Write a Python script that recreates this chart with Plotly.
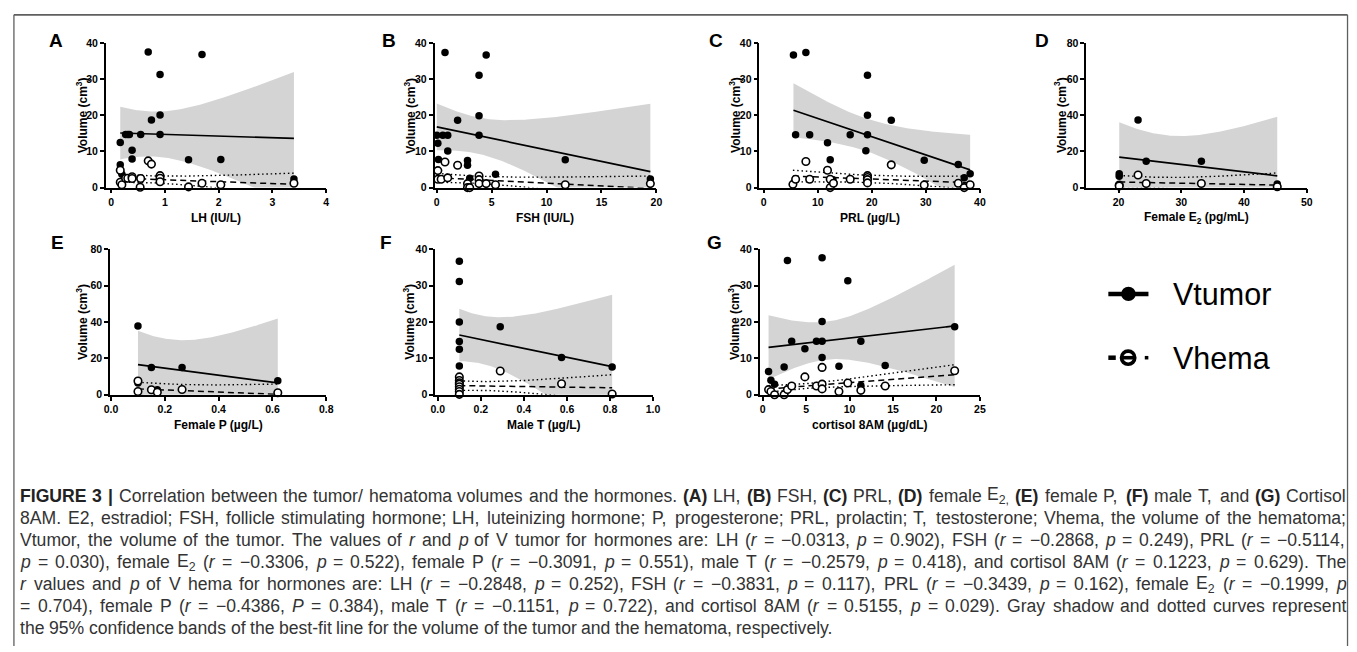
import re
import numpy as np
import plotly.graph_objects as go

W, H = 1357, 652
FONT = "Arial, 'Liberation Sans', sans-serif"

# ---------------- data ----------------
A_tumor_x = [0.17, 0.17, 0.20, 0.27, 0.31, 0.34, 0.39, 0.39, 0.55, 0.54, 0.69, 0.75, 0.91, 0.91, 0.91, 1.44, 1.69, 2.04, 3.40]
A_tumor_y = [12.5, 6.3, 3.7, 14.7, 14.7, 14.7, 10.3, 7.9, 14.7, 2.6, 37.5, 18.7, 31.3, 20.1, 14.7, 7.7, 36.8, 7.8, 2.4]
A_hema_x = [0.17, 0.17, 0.20, 0.27, 0.31, 0.39, 0.39, 0.55, 0.54, 0.69, 0.75, 0.91, 0.91, 0.91, 1.44, 1.69, 2.04, 3.40]
A_hema_y = [4.8, 1.5, 0.8, 2.6, 2.6, 3.0, 2.5, 2.5, 0.1, 7.4, 6.5, 3.3, 2.6, 1.6, 0.2, 1.2, 0.8, 1.2]
A_tumor_fit = [15.1, 13.6]
A_tumor_ci = [7.3, 6.2, 18.4]
A_hema_fit = [2.6, 0.9]
A_hema_ci = [1.1, 0.95, 3.1]

B_tumor_x = [0.0, 0.1, 0.15, 0.55, 0.75, 1.0, 1.0, 1.9, 2.8, 2.8, 3.0, 3.85, 3.85, 3.85, 4.5, 5.35, 11.7, 19.45]
B_tumor_y = [14.5, 12.3, 7.8, 14.5, 37.4, 14.5, 10.1, 18.6, 7.5, 6.2, 2.6, 31.1, 19.9, 14.5, 36.7, 3.7, 7.7, 2.4]
B_hema_x = [0.1, 0.1, 0.4, 0.75, 1.0, 1.9, 2.8, 2.8, 3.0, 3.85, 3.85, 3.85, 4.5, 5.35, 11.7, 19.45]
B_hema_y = [4.7, 2.3, 2.3, 7.1, 2.7, 6.2, 1.1, 0.0, 0.0, 3.2, 2.2, 1.1, 1.1, 0.8, 0.8, 1.1]
B_tumor_fit = [16.8, 4.4]
B_tumor_ci = [6.5, 5.0, 18.8]
B_hema_fit = [2.7, -0.2]
B_hema_ci = [1.2, 1.0, 3.4]

C_tumor_x = [5.5, 5.9, 7.8, 8.5, 11.8, 12.3, 12.8, 16.0, 18.9, 19.2, 19.2, 19.2, 23.6, 29.7, 36.0, 37.1, 38.2]
C_tumor_y = [36.7, 14.6, 37.4, 14.6, 12.4, 7.7, 2.2, 14.6, 10.2, 31.1, 20.0, 14.6, 18.6, 7.6, 6.4, 2.7, 3.8]
C_hema_x = [5.4, 5.9, 7.8, 8.5, 11.8, 12.3, 12.3, 12.9, 16.0, 19.2, 19.2, 19.2, 19.2, 23.6, 29.7, 36.0, 37.1, 38.2]
C_hema_y = [0.9, 2.3, 7.2, 2.3, 4.8, 2.3, 0.0, 1.2, 2.3, 3.3, 2.8, 2.2, 1.3, 6.3, 0.7, 1.2, 0.0, 0.8]
C_tumor_fit = [21.4, 4.9]
C_tumor_ci = [7.5, 4.5, 9.7]
C_hema_fit = [3.2, 1.35]
C_hema_ci = [1.6, 1.0, 1.85]

D_tumor_x = [20.1, 20.1, 23.1, 24.4, 33.2, 45.3]
D_tumor_y = [7.7, 6.3, 37.4, 14.6, 14.6, 2.0]
D_hema_x = [20.1, 20.1, 23.1, 24.4, 33.2, 45.3]
D_hema_y = [1.4, 0.9, 7.0, 2.3, 2.3, 0.5]
D_tumor_fit = [16.9, 6.5]
D_tumor_ci = [19.2, 15.1, 32.7]
D_hema_fit = [3.1, 1.4]
D_hema_ci = [3.6, 3.0, 6.7]

E_tumor_x = [0.1, 0.1, 0.1, 0.15, 0.172, 0.264, 0.62]
E_tumor_y = [37.8, 7.7, 6.5, 14.9, 2.7, 14.9, 7.7]
E_hema_x = [0.1, 0.1, 0.15, 0.172, 0.264, 0.62]
E_hema_y = [7.5, 1.8, 2.7, 1.4, 2.9, 1.1]
E_tumor_fit = [16.5, 6.5]
E_tumor_ci = [18.6, 16.2, 35.4]
E_hema_fit = [3.2, 0.2]
E_hema_ci = [3.6, 3.3, 5.7]

F_tumor_x = [0.1, 0.1, 0.1, 0.1, 0.1, 0.1, 0.1, 0.1, 0.29, 0.575, 0.81]
F_tumor_y = [36.7, 31.1, 20.0, 14.6, 12.5, 7.9, 3.8, 2.6, 18.7, 10.2, 7.6]
F_hema_x = [0.1, 0.1, 0.1, 0.1, 0.1, 0.1, 0.1, 0.1, 0.29, 0.575, 0.81]
F_hema_y = [4.9, 3.9, 3.3, 2.9, 2.2, 1.5, 0.9, 0.1, 6.5, 3.0, 0.2]
F_tumor_fit = [16.4, 7.7]
F_tumor_ci = [7.2, 6.6, 19.8]
F_hema_fit = [2.5, 1.9]
F_hema_ci = [1.3, 1.2, 3.6]

G_tumor_x = [0.68, 0.95, 1.37, 2.47, 2.85, 3.34, 4.86, 6.19, 6.84, 6.84, 6.84, 6.84, 6.84, 8.78, 9.8, 11.3, 11.3, 14.1, 22.1]
G_tumor_y = [6.4, 4.0, 2.9, 7.6, 36.9, 14.7, 12.6, 14.7, 37.6, 20.1, 14.7, 10.2, 3.0, 7.8, 31.3, 14.7, 2.5, 8.0, 18.7]
G_hema_x = [0.68, 0.95, 1.37, 2.47, 2.85, 3.34, 4.86, 6.19, 6.84, 6.84, 6.84, 8.78, 9.8, 11.3, 14.1, 22.1]
G_hema_y = [1.4, 0.9, 0.0, 0.0, 1.4, 2.4, 4.9, 2.4, 7.5, 2.9, 1.6, 0.9, 3.2, 1.2, 2.4, 6.6]
G_tumor_fit = [13.0, 18.9]
G_tumor_ci = [8.8, 5.2, 16.8]
G_hema_fit = [1.6, 5.5]
G_hema_ci = [0.9, 0.65, 2.75]

A_xticks = [0, 1, 2, 3, 4]
A_xticklabels = ["0", "1", "2", "3", "4"]
B_xticks = [0, 5, 10, 15, 20]
B_xticklabels = ["0", "5", "10", "15", "20"]
C_xticks = [0, 10, 20, 30, 40]
C_xticklabels = ["0", "10", "20", "30", "40"]
D_xticks = [20, 30, 40, 50]
D_xticklabels = ["20", "30", "40", "50"]
E_xticks = [0.0, 0.2, 0.4, 0.6, 0.8]
E_xticklabels = ["0.0", "0.2", "0.4", "0.6", "0.8"]
F_xticks = [0.0, 0.2, 0.4, 0.6, 0.8, 1.0]
F_xticklabels = ["0.0", "0.2", "0.4", "0.6", "0.8", "1.0"]
G_xticks = [0, 5, 10, 15, 20, 25]
G_xticklabels = ["0", "5", "10", "15", "20", "25"]
Y40_ticks = [0, 10, 20, 30, 40]
Y80_ticks = [0, 20, 40, 60, 80]

panel_letters = ["A", "B", "C", "D", "E", "F", "G"]
x_titles = ["LH (IU/L)", "FSH (IU/L)", "PRL (µg/L)", "Female E<sub>2</sub> (pg/mL)",
            "Female P (µg/L)", "Male T (µg/L)", "cortisol 8AM (µg/dL)"]
y_title = "Volume (cm<sup>3</sup>)"
legend_labels = ["Vtumor", "Vhema"]

caption_lines = [
    "<b>FIGURE</b> <b>3</b> <b>|</b> Correlation between the tumor/ hematoma volumes and the hormones. <b>(A)</b> LH, <b>(B)</b> FSH, <b>(C)</b> PRL, <b>(D)</b> female E<sub>2,</sub> <b>(E)</b> female P, <b>(F)</b> male T, and <b>(G)</b> Cortisol",
    "8AM. E2, estradiol; FSH, follicle stimulating hormone; LH, luteinizing hormone; P, progesterone; PRL, prolactin; T, testosterone; Vhema, the volume of the hematoma;",
    "Vtumor, the volume of the tumor. The values of <i>r</i> and <i>p</i> of V tumor for hormones are: LH (<i>r</i> = −0.0313, <i>p</i> = 0.902), FSH (<i>r</i> = −0.2868, <i>p</i> = 0.249), PRL (<i>r</i> = −0.5114,",
    "<i>p</i> = 0.030), female E<sub>2</sub> (<i>r</i> = −0.3306, <i>p</i> = 0.522), female P (<i>r</i> = −0.3091, <i>p</i> = 0.551), male T (<i>r</i> = −0.2579, <i>p</i> = 0.418), and cortisol 8AM (<i>r</i> = 0.1223, <i>p</i> = 0.629). The",
    "<i>r</i> values and <i>p</i> of V hema for hormones are: LH (<i>r</i> = −0.2848, <i>p</i> = 0.252), FSH (<i>r</i> = −0.3831, <i>p</i> = 0.117), PRL (<i>r</i> = −0.3439, <i>p</i> = 0.162), female E<sub>2</sub> (<i>r</i> = −0.1999, <i>p</i>",
    "= 0.704), female P (<i>r</i> = −0.4386, <i>P</i> = 0.384), male T (<i>r</i> = −0.1151, <i>p</i> = 0.722), and cortisol 8AM (<i>r</i> = 0.5155, <i>p</i> = 0.029). Gray shadow and dotted curves represent",
    "the 95% confidence bands of the best-fit line for the volume of the tumor and the hematoma, respectively.",
]

# ---------------- panel geometry (pixels) ----------------
panels = [
    dict(tx=A_tumor_x, ty=A_tumor_y, hx=A_hema_x, hy=A_hema_y, tf=A_tumor_fit, tc=A_tumor_ci, hf=A_hema_fit, hc=A_hema_ci,
         xt=A_xticks, xtl=A_xticklabels, yt=Y40_ticks, xpx=(100.7, 323.3), ypx=(37.7, 185), xr=[-0.1, 4], yr=[0, 40], let=(50.5, 35), yto=-24),
    dict(tx=B_tumor_x, ty=B_tumor_y, hx=B_hema_x, hy=B_hema_y, tf=B_tumor_fit, tc=B_tumor_ci, hf=B_hema_fit, hc=B_hema_ci,
         xt=B_xticks, xtl=B_xticklabels, yt=Y40_ticks, xpx=(432.7, 656.7), ypx=(37.7, 185), xr=[-0.2, 20], yr=[0, 40], let=(386.7, 35), yto=-24.4),
    dict(tx=C_tumor_x, ty=C_tumor_y, hx=C_hema_x, hy=C_hema_y, tf=C_tumor_fit, tc=C_tumor_ci, hf=C_hema_fit, hc=C_hema_ci,
         xt=C_xticks, xtl=C_xticklabels, yt=Y40_ticks, xpx=(760.7, 983.3), ypx=(37.7, 185), xr=[-0.8, 40], yr=[0, 40], let=(716.7, 35), yto=-24),
    dict(tx=D_tumor_x, ty=D_tumor_y, hx=D_hema_x, hy=D_hema_y, tf=D_tumor_fit, tc=D_tumor_ci, hf=D_hema_fit, hc=D_hema_ci,
         xt=D_xticks, xtl=D_xticklabels, yt=Y80_ticks, xpx=(1090.7, 1313.3), ypx=(37.7, 185), xr=[14.84, 50], yr=[0, 80], let=(1045.8, 35), yto=-25.7),
    dict(tx=E_tumor_x, ty=E_tumor_y, hx=E_hema_x, hy=E_hema_y, tf=E_tumor_fit, tc=E_tumor_ci, hf=E_hema_fit, hc=E_hema_ci,
         xt=E_xticks, xtl=E_xticklabels, yt=Y80_ticks, xpx=(105, 323.3), ypx=(247.7, 396), xr=[-0.004, 0.8], yr=[0, 80], let=(52.5, 240.5), yto=-28.3),
    dict(tx=F_tumor_x, ty=F_tumor_y, hx=F_hema_x, hy=F_hema_y, tf=F_tumor_fit, tc=F_tumor_ci, hf=F_hema_fit, hc=F_hema_ci,
         xt=F_xticks, xtl=F_xticklabels, yt=Y40_ticks, xpx=(433.3, 653.3), ypx=(247.7, 396), xr=[-0.0124, 1.0], yr=[0, 40], let=(384, 240.5), yto=-26.6),
    dict(tx=G_tumor_x, ty=G_tumor_y, hx=G_hema_x, hy=G_hema_y, tf=G_tumor_fit, tc=G_tumor_ci, hf=G_hema_fit, hc=G_hema_ci,
         xt=G_xticks, xtl=G_xticklabels, yt=Y40_ticks, xpx=(761, 983.3), ypx=(247.7, 396), xr=[-0.34, 25], yr=[0, 40], let=(715.8, 240.5), yto=-26),
]


def pxx(x):
    return x / W


def pyy(y):
    return 1 - y / H


def band(xs, fit, ci):
    x0, x1 = min(xs), max(xs)
    x = np.linspace(x0, x1, 160)
    yc = fit[0] + (fit[1] - fit[0]) * (x - x0) / (x1 - x0)
    h1, h0, h2 = ci
    r = np.sqrt((h2 ** 2 - h0 ** 2) / (h1 ** 2 - h0 ** 2))
    xb = (x1 + r * x0) / (1 + r)
    k = (h1 ** 2 - h0 ** 2) / (xb - x0) ** 2
    h = np.sqrt(h0 ** 2 + k * (x - xb) ** 2)
    return x, yc, yc - h, yc + h


fig = go.Figure()
annotations = []
shapes = []
layout = {}

for i, p in enumerate(panels):
    n = i + 1
    sfx = "" if n == 1 else str(n)
    xa, ya = "x" + sfx, "y" + sfx
    ax_common = dict(showline=True, linecolor="black", linewidth=1.6, ticks="outside", ticklen=4,
                     tickwidth=1.6, tickcolor="black", showgrid=False, zeroline=False,
                     tickfont=dict(family=FONT, size=10.5, color="black", weight="bold"), fixedrange=True)
    layout["xaxis" + sfx] = dict(domain=[pxx(p["xpx"][0]), pxx(p["xpx"][1])], range=p["xr"], anchor=ya,
                                 tickmode="array", tickvals=p["xt"], ticktext=p["xtl"], **ax_common)
    layout["yaxis" + sfx] = dict(domain=[pyy(p["ypx"][1]), pyy(p["ypx"][0])], range=p["yr"], anchor=xa,
                                 tickmode="array", tickvals=p["yt"], ticktext=[str(v) for v in p["yt"]], **ax_common)

    # tumor 95% band + fit
    x, yc, lo, hi = band(p["tx"], p["tf"], p["tc"])
    fig.add_trace(go.Scatter(x=np.concatenate([x, x[::-1]]), y=np.concatenate([hi, lo[::-1]]), fill="toself",
                             fillcolor="#d4d4d4", line=dict(width=0), mode="lines", xaxis=xa, yaxis=ya,
                             hoverinfo="skip", showlegend=False))
    fig.add_trace(go.Scatter(x=x, y=yc, mode="lines", line=dict(color="black", width=1.7), xaxis=xa, yaxis=ya,
                             showlegend=False))
    # hema dotted band + dashed fit
    xh, ych, loh, hih = band(p["hx"], p["hf"], p["hc"])
    for yy in (hih, loh):
        fig.add_trace(go.Scatter(x=xh, y=yy, mode="lines", line=dict(color="black", width=1.4, dash="1.5px,2.8px"),
                                 xaxis=xa, yaxis=ya, showlegend=False))
    fig.add_trace(go.Scatter(x=xh, y=ych, mode="lines", line=dict(color="black", width=1.5, dash="6px,4px"),
                             xaxis=xa, yaxis=ya, showlegend=False))
    # points
    fig.add_trace(go.Scatter(x=p["tx"], y=p["ty"], mode="markers", marker=dict(size=7.5, color="black"),
                             cliponaxis=False, xaxis=xa, yaxis=ya, showlegend=False))
    fig.add_trace(go.Scatter(x=p["hx"], y=p["hy"], mode="markers",
                             marker=dict(size=7.5, color="white", line=dict(color="black", width=1.6)),
                             cliponaxis=False, xaxis=xa, yaxis=ya, showlegend=False))

    # panel letter
    annotations.append(dict(text="<b>%s</b>" % panel_letters[i], x=pxx(p["let"][0]), y=pyy(p["let"][1]),
                            xref="paper", yref="paper", xanchor="center", yanchor="middle", showarrow=False,
                            font=dict(family=FONT, size=19, color="black")))
    # axis titles
    cx = (p["xpx"][0] + p["xpx"][1]) / 2
    annotations.append(dict(text="<b>%s</b>" % x_titles[i], x=pxx(cx), y=pyy(p["ypx"][1] + 30.5),
                            xref="paper", yref="paper", xanchor="center", yanchor="middle", showarrow=False,
                            font=dict(family=FONT, size=12, color="black")))
    cy = (p["ypx"][0] + p["ypx"][1]) / 2
    annotations.append(dict(text="<b>%s</b>" % y_title, x=pxx(p["xpx"][0] + p["yto"]), y=pyy(cy),
                            xref="paper", yref="paper", xanchor="center", yanchor="middle", showarrow=False,
                            textangle=-90, font=dict(family=FONT, size=12, color="black")))

# ---------------- legend (drawn) ----------------
ly1, ly2 = 293.3, 358.3
shapes.append(dict(type="line", xref="paper", yref="paper", x0=pxx(1113), x1=pxx(1153.5), y0=pyy(ly1), y1=pyy(ly1),
                   line=dict(color="black", width=4.5)))
shapes.append(dict(type="circle", xref="paper", yref="paper", x0=pxx(1133.3 - 7.3), x1=pxx(1133.3 + 7.3),
                   y0=pyy(ly1 + 7.3), y1=pyy(ly1 - 7.3), fillcolor="black", line=dict(color="black", width=0)))
shapes.append(dict(type="line", xref="paper", yref="paper", x0=pxx(1113), x1=pxx(1120.5), y0=pyy(ly2), y1=pyy(ly2),
                   line=dict(color="black", width=4.5)))
shapes.append(dict(type="circle", xref="paper", yref="paper", x0=pxx(1133 - 6.7), x1=pxx(1133 + 6.7),
                   y0=pyy(ly2 + 6.7), y1=pyy(ly2 - 6.7), fillcolor="white", line=dict(color="black", width=3.6)))
shapes.append(dict(type="line", xref="paper", yref="paper", x0=pxx(1127.5), x1=pxx(1138.5), y0=pyy(ly2), y1=pyy(ly2),
                   line=dict(color="black", width=3.6)))
shapes.append(dict(type="rect", xref="paper", yref="paper", x0=pxx(1149.8), x1=pxx(1153.4), y0=pyy(ly2 + 1.8),
                   y1=pyy(ly2 - 1.8), fillcolor="black", line=dict(width=0)))
for lab, ly in zip(legend_labels, (ly1, ly2)):
    annotations.append(dict(text=lab, x=pxx(1177), y=pyy(ly), xref="paper", yref="paper", xanchor="left",
                            yanchor="middle", showarrow=False, borderpad=0,
                            font=dict(family=FONT, size=30.5, color="black")))

# ---------------- frame ----------------
frame_col = "#5f5f5f"
shapes.append(dict(type="line", xref="paper", yref="paper", x0=pxx(8), x1=pxx(1354.5), y0=pyy(9), y1=pyy(9),
                   line=dict(color=frame_col, width=1.6)))
shapes.append(dict(type="line", xref="paper", yref="paper", x0=pxx(8), x1=pxx(8), y0=pyy(9), y1=0,
                   line=dict(color=frame_col, width=1.3)))
shapes.append(dict(type="line", xref="paper", yref="paper", x0=pxx(1354.5), x1=pxx(1354.5), y0=pyy(9), y1=0,
                   line=dict(color=frame_col, width=1.3)))

# ---------------- caption (justified, word by word) ----------------
REG = {' ': 278, '%': 889, '(': 333, ')': 333, ',': 278, '-': 333, '.': 278, '/': 278, ':': 278, ';': 278,
       '=': 584, '|': 260, '−': 584, 'µ': 556}
for ch in "0123456789":
    REG[ch] = 556
REG.update(dict(zip("ABCDEFGHIJKLMNOPQRSTUVWXYZ",
                    [667, 667, 722, 722, 667, 611, 778, 722, 278, 500, 667, 556, 833, 722, 778, 667, 778, 722, 667,
                     611, 722, 667, 944, 667, 667, 611])))
REG.update(dict(zip("abcdefghijklmnopqrstuvwxyz",
                    [556, 556, 500, 556, 556, 278, 556, 556, 222, 222, 500, 222, 833, 556, 556, 556, 556, 333, 500,
                     278, 556, 500, 722, 500, 500, 500])))
BOLD = dict(REG)
BOLD.update({'|': 280, 'A': 722, 'B': 722, 'C': 722, 'D': 722, 'E': 667, 'F': 611, 'G': 778, 'I': 278, 'R': 722,
             'U': 722})

CAP_FS = 17.6
CAP_LEFT, CAP_RIGHT = 13.5, 1351.5
cap_y = [499 + 22.5 * k for k in range(len(caption_lines))]


def tok_width(tok):
    table = BOLD if "<b>" in tok else REG
    total = 0.0
    for seg in re.split(r"(<sub>.*?</sub>)", tok):
        scale = 0.7 if seg.startswith("<sub>") else 1.0
        for ch in re.sub(r"<[^>]+>", "", seg):
            total += table.get(ch, 556) * scale
    return total * CAP_FS / 1000.0


for li, line in enumerate(caption_lines):
    toks = line.split(" ")
    widths = [tok_width(t) for t in toks]
    if li < len(caption_lines) - 1:
        gap = max((CAP_RIGHT - CAP_LEFT - sum(widths)) / (len(toks) - 1), 0.2 * CAP_FS)
    else:
        gap = 0.278 * CAP_FS
    xpos = CAP_LEFT
    for t, wdt in zip(toks, widths):
        col = "#222222" if "<b>" in t else "#333333"
        annotations.append(dict(text=t, x=pxx(xpos), y=pyy(cap_y[li]), xref="paper", yref="paper",
                                xanchor="left", yanchor="middle", showarrow=False, borderpad=0,
                                font=dict(family=FONT, size=CAP_FS, color=col)))
        xpos += wdt + gap

fig.update_layout(width=W, height=H, margin=dict(l=0, r=0, t=0, b=0), paper_bgcolor="white",
                  plot_bgcolor="white", showlegend=False, annotations=annotations, shapes=shapes,
                  font=dict(family=FONT, color="black"), **layout)

fig.write_html("out.html", config={"displayModeBar": False},
               post_script="document.body.style.margin='0px';document.body.style.overflow='hidden';")
